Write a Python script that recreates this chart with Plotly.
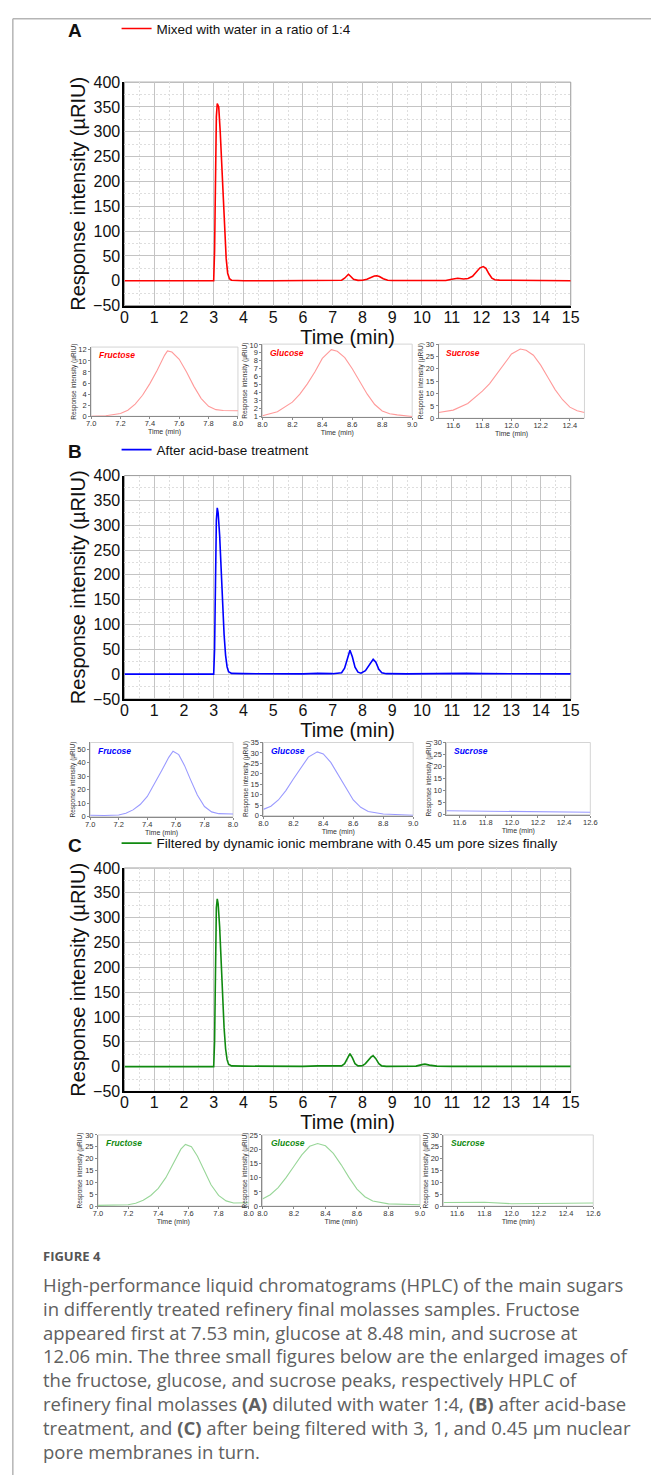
import plotly.graph_objects as go

W, H = 660, 1484

# ---------------- data ----------------
# Panel A main chromatogram (time min, response µRIU)
a_t = [0, 1, 2, 2.9, 3.0, 3.03, 3.06, 3.09, 3.12, 3.17, 3.22, 3.27, 3.32, 3.37, 3.42, 3.47, 3.53, 3.6, 3.7,
       4, 5, 6, 7, 7.3, 7.4, 7.47, 7.53, 7.6, 7.7, 7.85, 8.0, 8.15, 8.3, 8.4, 8.48, 8.57, 8.7, 8.85, 9.0,
       10, 10.8, 11.0, 11.2, 11.4, 11.55, 11.7, 11.85, 11.95, 12.06, 12.15, 12.25, 12.35, 12.45, 12.6, 13, 14, 15]
a_v = [0, 0, 0, 0, 0, 60, 220, 330, 357, 350, 300, 230, 160, 95, 45, 15, 4, 1, 0.5,
       0, 0, 0, 0, 1, 5, 10, 13, 9, 3, 0.8, 1, 3, 7, 9.5, 10, 8.5, 4, 1, 0.5,
       0, 0.5, 3, 5, 3.5, 4.5, 9, 19, 26, 28.5, 25, 14, 5, 2, 1.2, 1, 0.5, 0]

# Panel B main chromatogram
b_t = [0, 2.95, 3.0, 3.03, 3.06, 3.09, 3.12, 3.15, 3.2, 3.25, 3.3, 3.35, 3.4, 3.45, 3.5, 3.6, 4.0, 5, 6,
       6.5, 7, 7.3, 7.4, 7.5, 7.58, 7.66, 7.75, 7.85, 7.95, 8.1, 8.2, 8.3, 8.36, 8.45, 8.55, 8.65, 8.8,
       9.5, 10, 10.5, 11, 11.5, 12, 13, 15]
b_v = [0, 0, 0, 50, 200, 310, 335, 325, 280, 210, 140, 80, 38, 15, 5, 1.5, 1, 0.5, 0.5,
       1.5, 1, 3, 12, 32, 48, 35, 14, 4, 2, 7, 16, 27, 30, 24, 10, 3, 1,
       0.5, 1, 2, 2.5, 1.5, 1, 0.5, 0.5]

# Panel C main chromatogram
c_t = [0, 2.95, 3.0, 3.03, 3.06, 3.09, 3.12, 3.15, 3.2, 3.25, 3.3, 3.35, 3.4, 3.45, 3.5, 3.6, 4.0, 5, 6,
       6.5, 7, 7.3, 7.4, 7.5, 7.58, 7.66, 7.75, 7.85, 8.0, 8.1, 8.2, 8.3, 8.36, 8.45, 8.55, 8.65, 8.8,
       9.8, 10.0, 10.1, 10.25, 10.5, 11, 13, 15]
c_v = [0, 0, 0, 50, 210, 320, 338, 328, 282, 210, 138, 78, 36, 14, 5, 1.5, 1, 0.5, 0.5,
       1.5, 0.8, 1.5, 6, 18, 26, 18, 6, 1.5, 2, 6, 14, 20, 22, 16, 6, 1.5, 0.5,
       1, 4, 5, 3, 1, 0.5, 0.5, 0.5]

# Insets (enlarged peaks)
a1_t = [7.0, 7.1, 7.2, 7.25, 7.3, 7.35, 7.4, 7.45, 7.5, 7.52, 7.55, 7.6, 7.65, 7.7, 7.75, 7.8, 7.85, 7.9, 8.0]
a1_v = [0.0, 0.1, 0.5, 1.1, 2.2, 3.8, 5.9, 8.3, 11.0, 11.8, 11.6, 10.3, 8.0, 5.4, 3.2, 1.8, 1.2, 1.05, 1.0]
a2_t = [8.0, 8.1, 8.2, 8.25, 8.3, 8.35, 8.4, 8.46, 8.5, 8.55, 8.6, 8.65, 8.7, 8.75, 8.8, 8.85, 8.9, 9.0]
a2_v = [1.1, 1.6, 2.8, 3.8, 5.1, 6.6, 8.3, 9.4, 9.2, 8.4, 7.0, 5.4, 3.8, 2.5, 1.7, 1.35, 1.2, 1.0]
a3_t = [11.5, 11.6, 11.7, 11.8, 11.85, 11.9, 11.95, 12.0, 12.06, 12.1, 12.15, 12.2, 12.25, 12.3, 12.35, 12.4, 12.45, 12.5]
a3_v = [2.3, 3.3, 6.0, 11.0, 14.0, 18.0, 22.0, 26.0, 28.0, 27.5, 25.5, 21.5, 16.5, 11.5, 7.5, 4.5, 3.0, 2.3]

b1_t = [7.0, 7.1, 7.2, 7.25, 7.3, 7.35, 7.4, 7.45, 7.5, 7.55, 7.58, 7.62, 7.66, 7.7, 7.75, 7.8, 7.85, 7.9, 8.0]
b1_v = [1.0, 0.8, 1.2, 2.5, 5.0, 9.0, 15.0, 24.0, 34.0, 44.0, 48.5, 46.0, 38.0, 28.0, 16.0, 7.5, 3.5, 2.2, 2.0]
b2_t = [8.0, 8.05, 8.1, 8.15, 8.2, 8.25, 8.3, 8.36, 8.4, 8.45, 8.5, 8.55, 8.6, 8.65, 8.7, 8.8, 8.9, 9.0]
b2_v = [3.0, 4.5, 7.5, 12.0, 17.5, 23.0, 28.0, 30.5, 29.5, 25.5, 19.5, 13.0, 7.5, 4.0, 2.0, 0.8, 0.4, 0.2]
b3_t = [11.5, 11.8, 12.0, 12.3, 12.6]
b3_v = [1.6, 1.5, 1.2, 1.1, 1.0]

c1_t = [7.0, 7.2, 7.25, 7.3, 7.35, 7.4, 7.45, 7.5, 7.55, 7.58, 7.62, 7.66, 7.7, 7.75, 7.8, 7.85, 7.9, 8.0]
c1_v = [0.3, 0.6, 1.2, 2.5, 4.5, 7.5, 12.0, 18.0, 24.0, 26.0, 25.0, 21.0, 15.5, 9.0, 4.5, 2.2, 1.3, 1.4]
c2_t = [8.0, 8.05, 8.1, 8.15, 8.2, 8.25, 8.3, 8.35, 8.4, 8.45, 8.5, 8.55, 8.6, 8.65, 8.7, 8.8, 9.0]
c2_v = [2.5, 4.0, 6.5, 10.0, 14.0, 18.0, 21.0, 22.0, 21.2, 18.5, 14.5, 10.0, 6.0, 3.3, 1.8, 0.8, 0.5]
c3_t = [11.5, 11.8, 12.0, 12.2, 12.6]
c3_v = [1.5, 1.6, 1.0, 1.2, 1.3]

panel_letters = ["A", "B", "C"]
legend_names = ["Mixed with water in a ratio of 1:4",
                "After acid-base treatment",
                "Filtered by dynamic ionic membrane with 0.45 um pore sizes finally"]
main_colors = ["#ff0000", "#0000ff", "#108a10"]
inset_colors = ["#ff9a9a", "#9a9aff", "#98d698"]
inset_labels = [["Fructose", "Glucose", "Sucrose"],
                ["Frucose", "Glucose", "Sucrose"],
                ["Fructose", "Glucose", "Sucrose"]]
main_ticks_y = [-50, 0, 50, 100, 150, 200, 250, 300, 350, 400]
main_ticks_x = list(range(0, 16))

caption_title = "FIGURE 4"
caption_lines = [
    "High-performance liquid chromatograms (HPLC) of the main sugars",
    "in differently treated refinery final molasses samples. Fructose",
    "appeared first at 7.53 min, glucose at 8.48 min, and sucrose at",
    "12.06 min. The three small figures below are the enlarged images of",
    "the fructose, glucose, and sucrose peaks, respectively HPLC of",
    "refinery final molasses <b>(A)</b> diluted with water 1:4, <b>(B)</b> after acid-base",
    "treatment, and <b>(C)</b> after being filtered with 3, 1, and 0.45 \u00b5m nuclear",
    "pore membranes in turn.",
]

# ---------------- layout geometry (pixels) ----------------
def px(x):
    return x / W

def py(y):
    return 1 - y / H

main_series = [(a_t, a_v), (b_t, b_v), (c_t, c_v)]
main_box = [(122, 578, 75, 301), (122, 578, 473, 699), (122, 578, 870, 1096)]
title_y = [21, 447, 845]

inset_series = [[(a1_t, a1_v), (a2_t, a2_v), (a3_t, a3_v)],
                [(b1_t, b1_v), (b2_t, b2_v), (b3_t, b3_v)],
                [(c1_t, c1_v), (c2_t, c2_v), (c3_t, c3_v)]]
inset_xr = [[(7.0, 8.0), (8.0, 9.0), (11.5, 12.5)],
            [(7.0, 8.0), (8.0, 9.0), (11.5, 12.6)],
            [(7.0, 8.0), (8.0, 9.0), (11.5, 12.6)]]
inset_yr = [[(0, 12.5), (0.9, 10.1), (0, 30)],
            [(0, 55), (0, 35), (0, 30)],
            [(0, 30), (0, 25), (0, 30)]]
inset_ydt = [[2, 1, 5], [10, 5, 5], [5, 5, 5]]
inset_box = [[(88, 238, 343, 413), (263, 416, 340, 414), (443, 592, 340, 415)],
             [(87, 233, 743, 818), (264, 417, 743, 817), (451, 598, 743, 816)],
             [(95, 249, 1140, 1212), (263, 424, 1140, 1212), (448, 601, 1140, 1212)]]

fig = go.Figure()
layout = dict(width=W, height=H, margin=dict(l=0, r=0, t=0, b=0),
              paper_bgcolor="white", plot_bgcolor="white", showlegend=True)
annotations = []
shapes = []
font_main = "Liberation Sans, Arial, sans-serif"

ax = 0
for p in range(3):
    ax += 1
    sfx = "" if ax == 1 else str(ax)
    x0, x1, y0, y1 = main_box[p]
    leg = "legend" if p == 0 else "legend%d" % (p + 1)
    t, v = main_series[p]
    fig.add_trace(go.Scatter(x=t, y=v, mode="lines", name=legend_names[p],
                             line=dict(color=main_colors[p], width=1.6),
                             xaxis="x" + sfx, yaxis="y" + sfx, legend=leg, showlegend=True))
    layout["xaxis" + sfx] = dict(domain=[px(x0), px(x1)], anchor="y" + sfx, range=[0, 15],
                                 tickvals=main_ticks_x, ticks="", showline=True, linecolor="#000",
                                 linewidth=1.5, showgrid=True, gridcolor="#c4c4c4", gridwidth=1,
                                 minor=dict(dtick=0.5, showgrid=True, gridcolor="#dedede", griddash="2px,2px"),
                                 tickfont=dict(family=font_main, size=16, color="#111"),
                                 ticklabelstandoff=-4,
                                 title=dict(text="Time (min)", font=dict(family=font_main, size=20, color="#111"),
                                            standoff=0),
                                 zeroline=False, fixedrange=True)
    layout["yaxis" + sfx] = dict(domain=[py(y1), py(y0)], anchor="x" + sfx, range=[-50, 400],
                                 tickvals=main_ticks_y, ticks="", showline=True, linecolor="#000",
                                 linewidth=2, showgrid=True, gridcolor="#c4c4c4", gridwidth=1,
                                 minor=dict(dtick=25, showgrid=True, gridcolor="#dedede", griddash="2px,2px"),
                                 tickfont=dict(family=font_main, size=16, color="#111"),
                                 ticklabelstandoff=-1,
                                 title=dict(text="Response intensity (\u00b5RIU)",
                                            font=dict(family=font_main, size=20, color="#111"), standoff=2),
                                 zeroline=False, fixedrange=True)
    shapes.append(dict(type="rect", xref="x%s domain" % sfx, yref="y%s domain" % sfx,
                       x0=0, x1=1, y0=0, y1=1, line=dict(color="#9a9a9a", width=1), layer="below"))
    layout[leg] = dict(x=px(114), y=py(title_y[p]), xanchor="left", yanchor="middle",
                       bgcolor="rgba(0,0,0,0)", font=dict(family=font_main, size=13.5, color="#111"),
                       itemwidth=30, tracegroupgap=0)
    annotations.append(dict(text="<b>%s</b>" % panel_letters[p], x=px(72), y=py(title_y[p] + 2),
                            xref="paper", yref="paper", showarrow=False, xanchor="center", yanchor="middle",
                            font=dict(family=font_main, size=19, color="#111")))

    for k in range(3):
        ax += 1
        sfx = str(ax)
        bx0, bx1, by0, by1 = inset_box[p][k]
        t, v = inset_series[p][k]
        fig.add_trace(go.Scatter(x=t, y=v, mode="lines", line=dict(color=inset_colors[p], width=1.1),
                                 xaxis="x" + sfx, yaxis="y" + sfx, showlegend=False))
        layout["xaxis" + sfx] = dict(domain=[px(bx0), px(bx1)], anchor="y" + sfx, range=list(inset_xr[p][k]),
                                     dtick=0.2, tick0=11.6 if k == 2 else 7.0, tickformat=".1f",
                                     showline=True, linecolor="#8a8a8a", mirror=False, ticks="outside",
                                     ticklen=2, tickcolor="#8a8a8a", showgrid=False, zeroline=False,
                                     tickfont=dict(family=font_main, size=7.5, color="#333"),
                                     ticklabelstandoff=-2,
                                     title=dict(text="Time (min)", font=dict(family=font_main, size=7, color="#333"),
                                                standoff=0),
                                     fixedrange=True)
        layout["yaxis" + sfx] = dict(domain=[py(by1), py(by0)], anchor="x" + sfx, range=list(inset_yr[p][k]),
                                     dtick=inset_ydt[p][k], showline=True, linecolor="#8a8a8a", ticks="outside",
                                     ticklen=2, tickcolor="#8a8a8a", showgrid=False, zeroline=False,
                                     tickfont=dict(family=font_main, size=7.5, color="#333"),
                                     title=dict(text="Response intensity (\u00b5RIU)",
                                                font=dict(family=font_main, size=6.5, color="#333"), standoff=1),
                                     fixedrange=True)
        shapes.append(dict(type="rect", xref="x%s domain" % sfx, yref="y%s domain" % sfx,
                           x0=0, x1=1, y0=0, y1=1, line=dict(color="#d4d4d4", width=1), layer="below"))
        annotations.append(dict(text="<b><i>%s</i></b>" % inset_labels[p][k],
                                x=0.04, y=0.88, xref="x%s domain" % sfx, yref="y%s domain" % sfx,
                                showarrow=False, xanchor="left", yanchor="middle",
                                font=dict(family=font_main, size=8.5, color=main_colors[p])))

# figure frame
shapes.append(dict(type="line", xref="paper", yref="paper", x0=px(8), x1=1, y0=py(11), y1=py(11),
                   line=dict(color="#b5b5b5", width=1.5)))
shapes.append(dict(type="line", xref="paper", yref="paper", x0=px(8), x1=px(8), y0=py(11), y1=0,
                   line=dict(color="#b5b5b5", width=1.5)))

# caption
cap_font = "Open Sans, Noto Sans, sans-serif"
annotations.append(dict(text="<b>%s</b>" % caption_title, x=px(37), y=py(1262), xref="paper", yref="paper",
                        showarrow=False, xanchor="left", yanchor="middle",
                        font=dict(family=cap_font, size=13, color="#555")))
for i, line in enumerate(caption_lines):
    annotations.append(dict(text=line, x=px(37), y=py(1291 + i * 24.2), xref="paper", yref="paper",
                            showarrow=False, xanchor="left", yanchor="middle",
                            font=dict(family=cap_font, size=18.5, color="#606060")))

layout["annotations"] = annotations
layout["shapes"] = shapes
fig.update_layout(**layout)
fig.write_html("out.html")
